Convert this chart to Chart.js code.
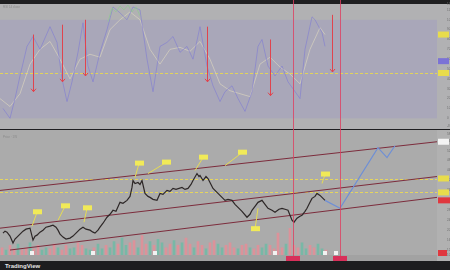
<!DOCTYPE html>
<html>
<head>
<meta charset="utf-8">
<script src="https://cdn.jsdelivr.net/npm/chart.js@4.4.1/dist/chart.umd.min.js"></script>
<style>
html, body { margin: 0; padding: 0; background: #1d1d1f; width: 450px; height: 270px; overflow: hidden; font-family: "Liberation Sans", Arial, sans-serif; }
#oscChart { position: absolute; left: 0; top: 0; }
#priceChart { position: absolute; left: 0; top: 130px; }
#foot { position: absolute; left: 5px; top: 262px; color: #e6e6e6; font-size: 6px; line-height: 8px; font-weight: bold; }
</style>
</head>
<body>
<canvas id="oscChart" width="450" height="130"></canvas>
<canvas id="priceChart" width="450" height="132"></canvas>
<div id="foot">TradingView</div>
<script>
// Oscillator pane (top) - fast line
const oscX = [1.5, 5, 7.5, 10, 13.5, 16.5, 20, 25, 28.5, 31, 33.5, 36, 39, 41.5, 44, 46.5, 50, 53.5, 56.5, 60, 63.5, 66.5, 70, 73.5, 76.5, 80, 83.5, 86.5, 90, 93.5, 96.5, 100, 103.5, 106.5, 110, 112.5, 116, 119, 122.5, 126, 129, 131, 134, 137.5, 141, 144, 146.5, 150, 152.5, 156, 157.5, 161, 162.5];
const oscY = [10, 0, 20, 43, 73, 83, 70, 93, 77, 40, 17, 37, 67, 97, 53, 37, 67, 90, 113, 107, 100, 113, 110, 60, 27, 73, 77, 83, 67, 73, 60, 93, 53, 33, 17, 27, 33, 20, 7, 27, 73, 80, 53, 43, 53, 37, 30, 20, 70, 103, 100, 87, 73];
// slow line
const slowX = [0, 5, 10, 15, 20, 25, 30, 35, 40, 45, 50, 55, 60, 65, 70, 75, 80, 85, 90, 95, 100, 105, 110, 115, 120, 125, 130, 135, 140, 145, 150, 155, 160, 162.5];
const slowY = [20, 12, 25, 55, 70, 78, 60, 40, 60, 65, 62, 90, 100, 108, 100, 70, 55, 70, 72, 68, 78, 60, 35, 28, 25, 22, 55, 62, 52, 45, 35, 70, 92, 85];
// overbought segment
const hotX = [54, 56, 58, 60, 62, 64, 66, 68, 70];
const hotY = [98, 112, 108, 114, 110, 115, 108, 113, 104];
const oscLevel = 46;
// sell arrows: bar, from, to
const arrowX = [16.5, 31, 42.5, 103.5, 135, 166];
const arrowFrom = [85, 95, 100, 93, 80, 105];
const arrowTo = [27, 37, 43, 37, 23, 47];

// Price pane (bottom)
const priceX = [1.5, 2.5, 3.5, 5, 6.5, 7.5, 8.5, 10, 11.5, 13, 15, 16.5, 17.5, 18.5, 20, 21.5, 23, 25, 26.5, 28, 29, 30, 31.5, 33, 35, 36.5, 38.5, 40, 41.5, 43, 45, 46.5, 47.5, 49, 50, 51.5, 53.5, 55, 56.5, 58, 60, 61.5, 63.5, 65, 66, 66.5, 67.5, 69, 70, 71, 72.5, 74, 75, 76.5, 78.5, 80, 81.5, 83.5, 85, 86.5, 88, 91, 92.5, 94, 95.5, 96.5, 98.5, 99.5, 100, 101.5, 103, 104, 105.5, 106.5, 108.5, 110, 112.5, 114, 116, 117.5, 119, 121, 123.5, 125, 126, 127.5, 129, 131, 132.5, 134, 136, 137.5, 139.5, 141, 142.5, 144, 145, 146, 147, 148.5, 150, 151, 152.5, 153.5, 155, 156, 157.5, 158.5, 160, 161, 162.5];
const priceY = [18.8, 19.6, 19.2, 17.6, 14.8, 16.4, 17.2, 18.4, 19.6, 20.4, 20.8, 16.0, 17.6, 18.0, 19.2, 20.0, 21.2, 21.6, 22.0, 21.2, 20.0, 18.4, 17.2, 16.4, 16.8, 17.6, 19.2, 20.4, 21.2, 20.4, 20.0, 19.2, 18.8, 20.0, 21.2, 22.8, 25.2, 26.4, 28.0, 27.6, 31.2, 30.8, 32.0, 33.6, 37.2, 40.0, 38.8, 39.2, 38.4, 40.0, 34.8, 33.6, 33.2, 32.4, 32.0, 34.8, 34.4, 36.0, 35.6, 36.8, 36.4, 37.2, 36.4, 36.8, 38.4, 40.0, 42.8, 41.6, 42.0, 40.0, 41.6, 40.8, 38.4, 36.8, 35.2, 34.0, 32.0, 32.4, 32.0, 30.4, 29.2, 27.6, 25.2, 26.4, 28.0, 29.6, 31.2, 32.0, 30.4, 28.8, 28.0, 27.2, 28.4, 28.8, 28.4, 28.0, 26.0, 24.0, 23.2, 24.8, 25.6, 26.0, 27.6, 28.8, 31.2, 32.8, 33.6, 34.8, 34.0, 33.2, 32.0];
// projected path
const projX = [162.5, 170, 189, 193.5, 197.5];
const projY = [32.0, 28.8, 53.2, 49.2, 54.0];
// channel: start bar, start price, end bar, end price
const channels = [[0, 36.0, 218.5, 55.6], [0, 20.8, 218.5, 41.6], [5, 12.0, 218.5, 33.2]];
const levels = [40.8, 35.2];
const lastPrice = 32.0;
// volume, one bar every 2 bars
const volume = [6, 4, 8, 5, 9, 4, 6, 10, 5, 8, 4, 6, 5, 9, 6, 4, 8, 5, 6, 10, 8, 5, 4, 6, 9, 5, 8, 6, 11, 9, 14, 8, 10, 12, 6, 16, 9, 11, 8, 13, 10, 6, 9, 12, 8, 10, 14, 9, 6, 11, 8, 5, 10, 12, 9, 6, 8, 10, 6, 5, 8, 9, 6, 5, 8, 6, 9, 8, 5, 18, 6, 9, 22, 8, 6, 10, 5, 8, 6, 9, 5, 4];
const volDir = "dudduddudduuddudduudduuduuduuduuddudduduuddududduddudduuddduddudduudddduddduudduudd";
const eventBars = [16, 46.5, 77.5, 137.5, 162.5, 168];
// callouts: anchor bar, anchor price, box bar, box price
const callouts = [[16, 21.6, 18.5, 27.2], [29, 24.0, 32.5, 29.6], [42, 23.2, 43.5, 28.8], [67.5, 41.2, 69.5, 46.8], [74, 42.8, 83, 47.2], [97.5, 44.0, 101.5, 49.2], [112.5, 46.0, 121, 51.2], [161, 38.8, 162.5, 42.4], [129, 28.8, 127.5, 20.4]];
const markerBars = [146.5, 170];

const X_MAX = 218.5;
const AXIS_W = 13;

function zip(xs, ys) { return xs.map((x, i) => ({ x: x, y: ys[i] })); }

function markerLines(chart) {
  const ctx = chart.ctx, xs = chart.scales.x;
  ctx.save();
  ctx.strokeStyle = "rgba(222,62,96,0.8)";
  ctx.lineWidth = 1;
  markerBars.forEach(b => {
    const px = Math.round(xs.getPixelForValue(b)) + 0.5;
    ctx.beginPath(); ctx.moveTo(px, 0); ctx.lineTo(px, chart.height); ctx.stroke();
  });
  ctx.restore();
}

function tag(ctx, x, y, w, color) {
  ctx.fillStyle = color;
  ctx.fillRect(x, y - 3, w, 6);
}

const oscPlugin = {
  id: "oscPane",
  beforeDraw(chart) {
    const ctx = chart.ctx, a = chart.chartArea, ys = chart.scales.y;
    ctx.save();
    ctx.fillStyle = "#b1b1b3";
    ctx.fillRect(0, 0, chart.width, chart.height);
    ctx.fillStyle = "#a9a7b9";
    const t = ys.getPixelForValue(100), b = ys.getPixelForValue(0);
    ctx.fillRect(a.left, t, a.right - a.left, b - t);
    ctx.fillStyle = "#1f1f21";
    ctx.fillRect(0, 0, chart.width, 4);
    ctx.fillRect(0, chart.height - 1, chart.width, 1);
    ctx.fillStyle = "#8c8c8c";
    ctx.font = "3px 'Liberation Sans'";
    ctx.textBaseline = "middle";
    ctx.fillText("RSI 14 close", 3, 7);
    ctx.strokeStyle = "#e2d35a";
    ctx.setLineDash([3, 2]);
    ctx.lineWidth = 1;
    const ly = Math.round(ys.getPixelForValue(oscLevel)) + 0.5;
    ctx.beginPath(); ctx.moveTo(a.left, ly); ctx.lineTo(a.right, ly); ctx.stroke();
    ctx.restore();
  },
  afterDatasetsDraw(chart) {
    const ctx = chart.ctx, xs = chart.scales.x, ys = chart.scales.y, a = chart.chartArea;
    ctx.save();
    ctx.strokeStyle = "#e0444e";
    ctx.lineWidth = 1;
    arrowX.forEach((b, i) => {
      const px = Math.round(xs.getPixelForValue(b)) + 0.5;
      const y0 = ys.getPixelForValue(arrowFrom[i]), y1 = ys.getPixelForValue(arrowTo[i]);
      ctx.beginPath(); ctx.moveTo(px, y0); ctx.lineTo(px, y1);
      ctx.moveTo(px - 2.5, y1 - 3); ctx.lineTo(px, y1); ctx.lineTo(px + 2.5, y1 - 3);
      ctx.stroke();
    });
    ctx.restore();
    markerLines(chart);
    ctx.save();
    tag(ctx, a.right + 1, ys.getPixelForValue(85), 11, "#e8dc4c");
    tag(ctx, a.right + 1, ys.getPixelForValue(58), 11, "#7b72d6");
    tag(ctx, a.right + 1, ys.getPixelForValue(oscLevel), 11, "#e8dc4c");
    ctx.restore();
  }
};

const pricePlugin = {
  id: "pricePane",
  beforeDraw(chart) {
    const ctx = chart.ctx, a = chart.chartArea, ys = chart.scales.y;
    ctx.save();
    ctx.fillStyle = "#ababab";
    ctx.fillRect(0, 0, chart.width, chart.height);
    ctx.fillStyle = "#b1b1b1";
    ctx.fillRect(a.right, 0, chart.width - a.right, chart.height);
    ctx.fillStyle = "#a2a2a2";
    ctx.fillRect(0, a.bottom, a.right, chart.height - a.bottom);
    ctx.fillStyle = "#8a8a8a";
    ctx.font = "3px 'Liberation Sans'";
    ctx.textBaseline = "middle";
    ctx.fillText("Price · 1W", 3, 7);
    ctx.strokeStyle = "#e5d55e";
    ctx.setLineDash([3, 2]);
    ctx.lineWidth = 1;
    levels.forEach(l => {
      const py = Math.round(ys.getPixelForValue(l)) + 0.5;
      ctx.beginPath(); ctx.moveTo(a.left, py); ctx.lineTo(a.right, py); ctx.stroke();
    });
    ctx.restore();
  },
  afterDatasetsDraw(chart) {
    const ctx = chart.ctx, xs = chart.scales.x, ys = chart.scales.y, a = chart.chartArea;
    markerLines(chart);
    ctx.save();
    callouts.forEach(c => {
      const ax = xs.getPixelForValue(c[0]), ay = ys.getPixelForValue(c[1]);
      const bx = xs.getPixelForValue(c[2]), by = ys.getPixelForValue(c[3]);
      ctx.strokeStyle = "#e6dc52";
      ctx.lineWidth = 1;
      ctx.beginPath(); ctx.moveTo(ax, ay); ctx.lineTo(bx, by); ctx.stroke();
      ctx.fillStyle = "#f1ea58";
      ctx.fillRect(bx - 4, by - 3, 9, 5);
    });
    eventBars.forEach(b => {
      const px = xs.getPixelForValue(b);
      ctx.fillStyle = "#f2f2f2";
      ctx.fillRect(px - 2, a.bottom - 4, 4, 4);
    });
    tag(ctx, a.right + 1, ys.getPixelForValue(channels[0][3]), 11, "#f4f4f4");
    levels.forEach(l => tag(ctx, a.right + 1, ys.getPixelForValue(l), 11, "#e8dc4c"));
    tag(ctx, a.right + 1, ys.getPixelForValue(lastPrice), 12, "#e0383f");
    tag(ctx, a.right + 1, a.bottom - 2, 9, "#e0383f");
    markerBars.forEach(b => {
      const px = xs.getPixelForValue(b);
      ctx.fillStyle = "#d8305a";
      ctx.fillRect(px - 7, a.bottom + 1, 14, 5);
    });
    ctx.fillStyle = "#1d1d1f";
    ctx.fillRect(0, chart.height - 1, chart.width, 1);
    ctx.restore();
  }
};

const yAxisFit = s => { s.width = AXIS_W; };

new Chart(document.getElementById("oscChart"), {
  type: "line",
  data: {
    datasets: [
      { data: zip(slowX, slowY), borderColor: "rgba(218,212,190,0.85)", borderWidth: 0.8, order: 3 },
      { data: zip(oscX, oscY), borderColor: "rgba(120,116,214,0.75)", borderWidth: 0.7, order: 2 },
      { data: zip(hotX, hotY), borderColor: "rgba(140,205,140,0.8)", borderWidth: 0.8, order: 1 }
    ]
  },
  options: {
    responsive: false,
    animation: false,
    layout: { padding: { top: 4, bottom: 2, left: 0, right: 0 } },
    elements: { point: { radius: 0 }, line: { tension: 0 } },
    plugins: { legend: { display: false }, tooltip: { enabled: false } },
    scales: {
      x: { type: "linear", min: 0, max: X_MAX, display: false },
      y: {
        position: "right", min: -8, max: 116,
        afterFit: yAxisFit,
        grid: { display: false }, border: { display: false },
        ticks: { stepSize: 10, color: "#6d6d6d", font: { size: 3 }, padding: 2 }
      }
    }
  },
  plugins: [oscPlugin]
});

new Chart(document.getElementById("priceChart"), {
  type: "line",
  data: {
    datasets: [
      {
        type: "bar", yAxisID: "yv", order: 10,
        data: volume.map((v, i) => ({ x: i * 2 + 1, y: v })),
        backgroundColor: volume.map((v, i) => volDir[i] === "u" ? "#78b8a6" : "#dc929a"),
        barThickness: 2
      },
      ...channels.map(c => ({
        data: [{ x: c[0], y: c[1] }, { x: c[2], y: c[3] }],
        borderColor: "#7c2c3c", borderWidth: 1, order: 5
      })),
      { data: zip(priceX, priceY), borderColor: "#2d2727", borderWidth: 1.2, order: 2 },
      { data: zip(projX, projY), borderColor: "#6e8fd6", borderWidth: 1.2, order: 1 }
    ]
  },
  options: {
    responsive: false,
    animation: false,
    layout: { padding: { top: 3, bottom: 0, left: 0, right: 0 } },
    elements: { point: { radius: 0 }, line: { tension: 0 } },
    plugins: { legend: { display: false }, tooltip: { enabled: false } },
    scales: {
      x: {
        type: "linear", min: 0, max: X_MAX, offset: false,
        afterFit: s => { s.height = 7; s.paddingLeft = 0; s.paddingRight = 0; },
        grid: { display: false, offset: false }, border: { display: false },
        ticks: { stepSize: 15, color: "#6d6d6d", font: { size: 3 }, padding: 1, maxRotation: 0, align: "inner" }
      },
      y: {
        position: "right", min: 10, max: 58.8,
        afterFit: yAxisFit,
        grid: { display: false }, border: { display: false },
        ticks: { stepSize: 4, color: "#6d6d6d", font: { size: 3 }, padding: 2 }
      },
      yv: { display: false, min: 0, max: 100 }
    }
  },
  plugins: [pricePlugin]
});
</script>
</body>
</html>
